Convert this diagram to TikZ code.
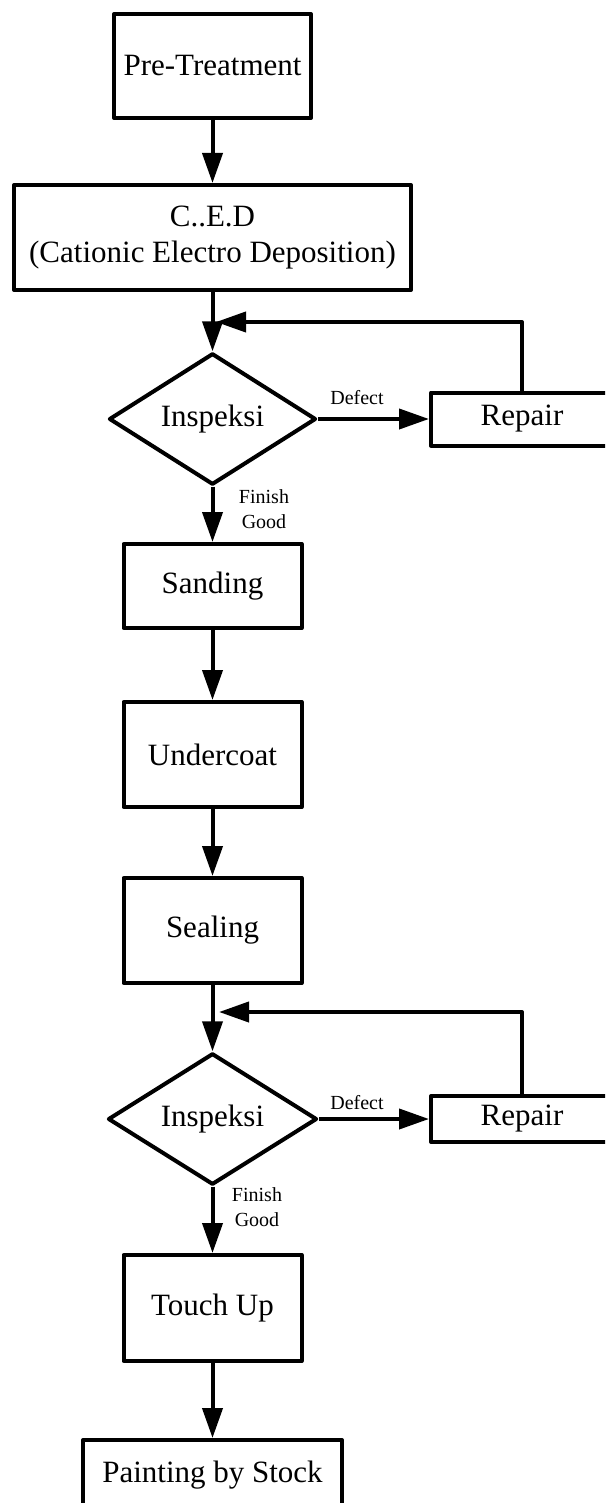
\documentclass[tikz,border=0pt]{standalone}
\usepackage{fontspec}
\setmainfont{Liberation Serif}
\usetikzlibrary{arrows.meta,shapes.geometric}
\begin{document}
\begin{tikzpicture}[x=1pt,y=-1pt,
  line join=round,
  every node/.style={font=\fontsize{31}{36}\selectfont},
  procbox/.style={draw, line width=4pt, rectangle, inner sep=0pt, align=center},
  decision/.style={draw, line width=4pt, diamond, inner sep=0pt},
  flow/.style={line width=4pt, -{Triangle[length=30pt,width=20pt]}},
  tag/.style={font=\fontsize{20}{25}\selectfont, align=center, inner sep=0pt}]

\clip (0,0) rectangle (605,1503);

% process steps
\node[procbox, minimum width=197pt, minimum height=104pt] (pre) at (212.5,66) {Pre-Treatment};
\node[procbox, minimum width=397pt, minimum height=105pt] (ced) at (212.5,237.5) {C..E.D\\(Cationic Electro Deposition)};
\node[decision, minimum width=207pt, minimum height=126pt] (insp1) at (212.5,419) {Inspeksi};
\node[procbox, minimum width=182pt, minimum height=53pt] (rep1) at (522,419) {Repair};
\node[procbox, minimum width=178pt, minimum height=84pt] (sand) at (212.5,586) {Sanding};
\node[procbox, minimum width=178pt, minimum height=105pt] (under) at (212.5,754.5) {Undercoat};
\node[procbox, minimum width=178pt, minimum height=105pt] (seal) at (212.5,930.5) {Sealing};
\node[decision, minimum width=209pt, minimum height=124pt] (insp2) at (212.5,1119) {Inspeksi};
\node[procbox, minimum width=182pt, minimum height=46pt] (rep2) at (522,1119) {Repair};
\node[procbox, minimum width=178pt, minimum height=106pt] (touch) at (212.5,1308) {Touch Up};
\node[procbox, minimum width=259pt, minimum height=70pt] (paint) at (212.5,1475) {Painting by Stock};

% labels on the branches
\node[tag] (def1) at (357,398) {Defect};
\node[tag] (fin1) at (264,509.5) {Finish\\Good};
\node[tag] (def2) at (357,1103) {Defect};
\node[tag] (fin2) at (257,1207) {Finish\\Good};

% return points of the repair loops
\coordinate (fb1) at (216,322);
\coordinate (fb2) at (219,1012);

% main flow
\draw[flow] (pre) -- (ced);
\draw[flow] (ced) -- (insp1);
\draw[flow] (insp1) -- (rep1);
\draw[flow] (rep1.north) |- (fb1);
\draw[flow] (insp1) -- (sand);
\draw[flow] (sand) -- (under);
\draw[flow] (under) -- (seal);
\draw[flow] (seal) -- (insp2);
\draw[flow] (insp2) -- (rep2);
\draw[flow] (rep2.north) |- (fb2);
\draw[flow] (insp2) -- (touch);
\draw[flow] (touch) -- (paint);

\end{tikzpicture}
\end{document}
